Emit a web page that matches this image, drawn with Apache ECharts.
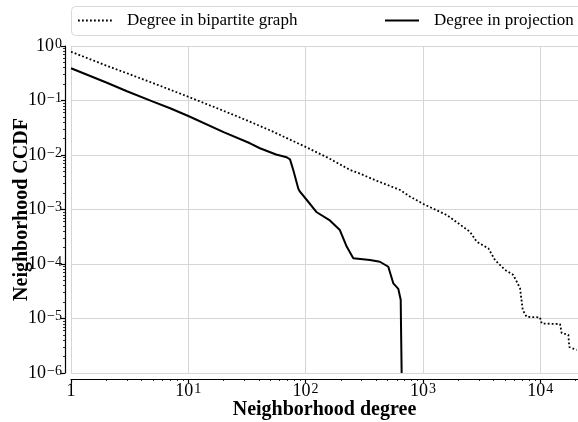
<!DOCTYPE html>
<html><head><meta charset="utf-8">
<script src="https://cdn.jsdelivr.net/npm/echarts@6/dist/echarts.min.js"></script>
<style>html,body{margin:0;padding:0;background:#fff}#c{width:578px;height:422px}</style>
</head><body><div id="c"></div>
<script>
// ---- data ----
const seriesNames = ['Degree in bipartite graph', 'Degree in projection'];
const xTitle = 'Neighborhood degree';
const yTitle = 'Neighborhood CCDF';

const bipartiteDegree = [1, 2, 3, 5, 10, 20, 32, 50, 100, 158, 240, 290, 400, 640, 780, 1010, 1600, 2520, 2880, 3610, 4120, 5010, 5900, 6730, 7100, 7670, 9950, 10300, 14760, 15240, 17380, 17700, 20460];
const bipartiteCCDF = [0.785, 0.437, 0.316, 0.209, 0.117, 0.0646, 0.0427, 0.0282, 0.0141, 0.0087, 0.0053, 0.00457, 0.00339, 0.00228, 0.00172, 0.00126, 0.00079, 0.00039, 0.000256, 0.000194, 0.000118, 7.8e-5, 6.3e-5, 3.6e-5, 1.43e-5, 1.07e-5, 1.05e-5, 8.1e-6, 7.9e-6, 5.4e-6, 5.0e-6, 3.0e-6, 2.64e-6];

const projectionDegree = [1, 2, 3, 5, 7, 10, 20, 33.6, 40.8, 56, 69, 73.6, 78.5, 86.7, 89.5, 102, 124.5, 161, 196, 224, 255, 354, 430, 507, 560, 617, 647, 650, 659];
const projectionCCDF = [0.39, 0.214, 0.148, 0.0955, 0.072, 0.052, 0.0263, 0.0164, 0.0133, 0.0102, 0.00908, 0.0083, 0.0053, 0.0024, 0.00212, 0.00151, 0.00089, 0.00063, 0.00042, 0.000209, 0.000127, 0.000118, 0.00011, 8.9e-5, 4.4e-5, 3.5e-5, 2.2e-5, 8.7e-6, 1e-6];

const xTicks = [1, 10, 100, 1000, 10000];
const yTicks = [1e-6, 1e-5, 1e-4, 1e-3, 1e-2, 1e-1, 1];
const xRange = [1, 21000];
const yRange = [1e-6, 1];

// ---- helpers ----
function minorTicks(lo, hi) {
  const out = [];
  for (let e = Math.floor(Math.log10(lo)); e <= Math.ceil(Math.log10(hi)); e++) {
    for (let k = 2; k <= 9; k++) {
      const v = k * Math.pow(10, e);
      if (v >= lo && v <= hi) out.push(v);
    }
  }
  return out;
}
const FONT = 'Liberation Serif';
function powLabel(v, oneAsPlain) {
  const e = Math.round(Math.log10(v));
  if (Math.abs(v - Math.pow(10, e)) / v > 1e-6) return '';
  if (oneAsPlain && e === 0) return '{b|1}';
  const es = String(e).replace('-', '\u2212');
  return '{b|10}{s|' + es + '}';
}
const rich = {
  b: {fontFamily: FONT, fontSize: 18, color: '#000', lineHeight: 18, verticalAlign: 'bottom'},
  s: {fontFamily: FONT, fontSize: 14, color: '#000', lineHeight: 14, verticalAlign: 'top', padding: [0, 0, 8, 1]}
};
const axisLineStyle = {color: '#000', width: 1.2};
const gridLine = {show: true, lineStyle: {color: '#d6d6d6', width: 1}};
const legendText = {fontFamily: FONT, fontSize: 17, color: '#000', padding: [0, 0, 0, 10]};
const titleStyle = {fontFamily: FONT, fontWeight: 'bold', fontSize: 20, color: '#000'};

function zip(a, b) { return a.map((x, i) => [x, b[i]]); }

const chart = echarts.init(document.getElementById('c'), null, {renderer: 'canvas'});
chart.setOption({
  animation: false,
  backgroundColor: '#fff',
  grid: {left: 71, right: 0, top: 46, bottom: 49, containLabel: false, outerBoundsMode: 'none'},
  graphic: [{
    type: 'rect', left: 71, top: 6, z: 0,
    shape: {width: 520, height: 29, r: 4},
    style: {fill: '#fff', stroke: '#d9d9d9', lineWidth: 1}
  }],
  legend: [
    {data: [seriesNames[0]], left: 77, top: 12, itemWidth: 34, itemHeight: 16, padding: 0,
     itemStyle: {opacity: 0}, textStyle: legendText},
    {data: [seriesNames[1]], left: 384, top: 12, itemWidth: 34, itemHeight: 16, padding: 0,
     itemStyle: {opacity: 0}, textStyle: legendText}
  ],
  xAxis: [{
    type: 'log', logBase: 10, min: xRange[0], max: xRange[1], position: 'bottom', offset: 6,
    axisLine: {lineStyle: axisLineStyle},
    axisTick: {customValues: xTicks, length: 4, lineStyle: axisLineStyle},
    axisLabel: {customValues: xTicks, margin: 3, formatter: v => powLabel(v, true), rich: rich},
    splitLine: gridLine,
    name: xTitle, nameLocation: 'middle', nameGap: 21, nameMoveOverlap: false, nameTextStyle: titleStyle
  }, {
    type: 'log', logBase: 10, min: xRange[0], max: xRange[1], position: 'bottom', offset: 6,
    axisLine: {show: false}, axisLabel: {show: false}, splitLine: {show: false},
    axisTick: {customValues: minorTicks(xRange[0], xRange[1]), length: 2, lineStyle: {color: '#000', width: 0.8}}
  }],
  yAxis: [{
    type: 'log', logBase: 10, min: yRange[0], max: yRange[1], position: 'left', offset: 6,
    axisLine: {lineStyle: axisLineStyle},
    axisTick: {customValues: yTicks, length: 4, lineStyle: axisLineStyle},
    axisLabel: {customValues: yTicks, margin: 3, formatter: v => powLabel(v, false), rich: rich},
    splitLine: gridLine,
    name: yTitle, nameLocation: 'middle', nameGap: 33, nameRotate: 90, nameMoveOverlap: false, nameTextStyle: titleStyle
  }, {
    type: 'log', logBase: 10, min: yRange[0], max: yRange[1], position: 'left', offset: 6,
    axisLine: {show: false}, axisLabel: {show: false}, splitLine: {show: false},
    axisTick: {customValues: minorTicks(yRange[0], yRange[1]), length: 2, lineStyle: {color: '#000', width: 0.8}}
  }],
  series: [{
    name: seriesNames[0], type: 'line', xAxisIndex: 0, yAxisIndex: 0,
    data: zip(bipartiteDegree, bipartiteCCDF), symbol: 'none', showSymbol: false, clip: true,
    lineStyle: {color: '#000', width: 1.8, type: [1.8, 2.2]}, itemStyle: {color: '#000'}
  }, {
    name: seriesNames[1], type: 'line', xAxisIndex: 0, yAxisIndex: 0,
    data: zip(projectionDegree, projectionCCDF), symbol: 'none', showSymbol: false, clip: true,
    lineStyle: {color: '#000', width: 2}, itemStyle: {color: '#000'}
  }]
});
</script></body></html>
